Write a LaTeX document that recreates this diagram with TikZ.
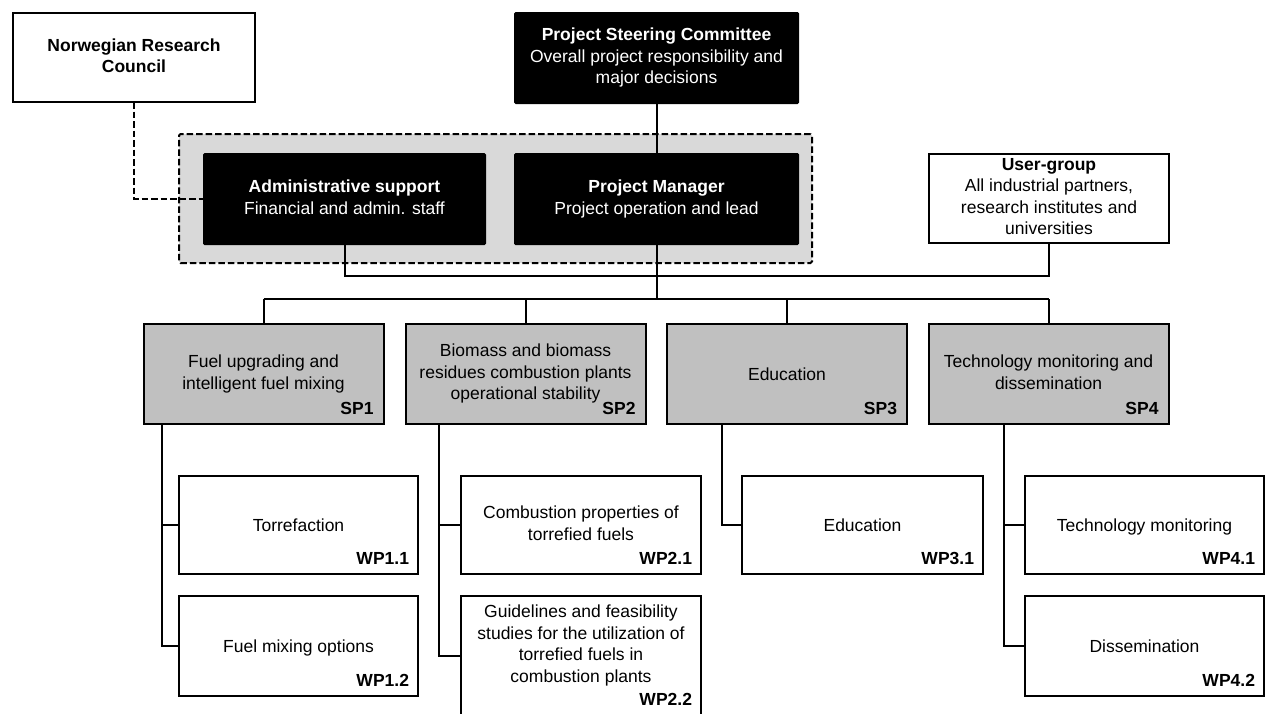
\documentclass[tikz,border=0pt]{standalone}
\usepackage{fontspec}
\setmainfont{Liberation Sans}
\newcommand{\diagfs}{\fontsize{17.5}{21.5}\selectfont}
\newcommand{\tstrut}{\rule[-4pt]{0pt}{21.5pt}}
\definecolor{spgray}{HTML}{C0C0C0}
\definecolor{grpgray}{HTML}{D9D9D9}
\tikzset{
  base/.style={inner sep=0pt, outer sep=0pt, align=center, font=\diagfs,
    execute at begin node=\tstrut, execute at end node=\tstrut},
  wbox/.style={base, draw, line width=2pt, fill=white},
  gbox/.style={base, draw, line width=2pt, fill=spgray},
  kbox/.style={base, fill=black, text=white, rounded corners=1.5pt},
  tag/.style={inner sep=0pt, outer sep=0pt, font=\diagfs\bfseries, anchor=base east},
  conn/.style={line width=2pt},
  dconn/.style={line width=2pt, dash pattern=on 6.5pt off 3pt},
}
\begin{document}
\begin{tikzpicture}[x=1pt,y=-1pt]
\useasboundingbox (0,0) rectangle (1272,713);
\clip (0,0) rectangle (1272,713);
\fill[white] (0,0) rectangle (1272,713);

% dashed group
\node[dconn, draw, fill=grpgray, rounded corners=1.5pt, minimum width=633pt, minimum height=129pt, inner sep=0pt] (grp) at (495.5,198.5) {};

% top boxes
\node[wbox, font=\diagfs\bfseries, minimum width=242pt, minimum height=89pt] (nrc) at (134,57.5) {Norwegian Research\\Council};
\node[kbox, minimum width=285pt, minimum height=92pt] (psc) at (656.5,58) {\textbf{Project Steering Committee}\\Overall project responsibility and\\major decisions};
\node[kbox, minimum width=283pt, minimum height=92pt] (adm) at (344.5,199) {\textbf{Administrative support}\\Financial and admin. staff};
\node[kbox, minimum width=285pt, minimum height=92pt] (pm) at (656.5,199) {\textbf{Project Manager}\\Project operation and lead};
\node[wbox, minimum width=240pt, minimum height=89pt] (ug) at (1049,198.5) {\textbf{User-group}\\All industrial partners,\\research institutes and\\universities};

% sub-projects
\node[gbox, minimum width=240pt, minimum height=100pt] (sp1) at (263.5,374) {Fuel upgrading and\\intelligent fuel mixing};
\node[gbox, minimum width=240pt, minimum height=100pt] (sp2) at (525.5,374) {Biomass and biomass\\residues combustion plants\\operational stability};
\node[gbox, minimum width=240pt, minimum height=100pt] (sp3) at (787,374) {Education};
\node[gbox, minimum width=240pt, minimum height=100pt] (sp4) at (1048.5,374) {Technology monitoring and\\dissemination};
\node[tag] (sp1t) at ([shift={(-10,-10)}]sp1.south east) {SP1};
\node[tag] (sp2t) at ([shift={(-10,-10)}]sp2.south east) {SP2};
\node[tag] (sp3t) at ([shift={(-10,-10)}]sp3.south east) {SP3};
\node[tag] (sp4t) at ([shift={(-10,-10)}]sp4.south east) {SP4};

% work packages
\node[wbox, minimum width=239pt, minimum height=98pt] (wp11) at (298.5,525) {Torrefaction};
\node[wbox, minimum width=239pt, minimum height=100pt] (wp12) at (298.5,646) {Fuel mixing options};
\node[wbox, minimum width=240pt, minimum height=98pt] (wp21) at (581,525) {Combustion properties of\\torrefied fuels};
\node[wbox, minimum width=240pt, minimum height=119pt] (wp22) at (581,655.5) {};
\node[base] (wp22txt) at ([shift={(0,-10)}]wp22.center) {Guidelines and feasibility\\studies for the utilization of\\torrefied fuels in\\combustion plants};
\node[wbox, minimum width=241pt, minimum height=98pt] (wp31) at (862.5,525) {Education};
\node[wbox, minimum width=239pt, minimum height=98pt] (wp41) at (1144.5,525) {Technology monitoring};
\node[wbox, minimum width=239pt, minimum height=100pt] (wp42) at (1144.5,646) {Dissemination};
\node[tag] (wp11t) at ([shift={(-9,-10)}]wp11.south east) {WP1.1};
\node[tag] (wp12t) at ([shift={(-9,-10)}]wp12.south east) {WP1.2};
\node[tag] (wp21t) at ([shift={(-9,-10)}]wp21.south east) {WP2.1};
\node[tag] (wp22t) at ([shift={(-9,-10)}]wp22.south east) {WP2.2};
\node[tag] (wp31t) at ([shift={(-9,-10)}]wp31.south east) {WP3.1};
\node[tag] (wp41t) at ([shift={(-9,-10)}]wp41.south east) {WP4.1};
\node[tag] (wp42t) at ([shift={(-9,-10)}]wp42.south east) {WP4.2};

% connectors
\coordinate (ulev) at (0,276);
\coordinate (bus) at (0,299);
\coordinate (v1) at (162,0);
\coordinate (v2) at (439,0);
\coordinate (v3) at (722,0);
\coordinate (v4) at (1004,0);

\draw[dconn] (nrc.south) |- (adm.west);
\draw[conn] (psc.south) -- (pm.north);
\draw[conn] (adm.south) -- (adm.south |- ulev) -- (ug.south |- ulev) -- (ug.south);
\draw[conn] (pm.south) -- (pm.south |- bus);
\draw[conn] (sp1.north |- bus) -- (sp4.north |- bus);
\foreach \s in {sp1,sp2,sp3,sp4} {\draw[conn] (\s.north |- bus) -- (\s.north);}

\draw[conn] (v1 |- sp1.south) |- (wp12.west);
\draw[conn] (v1 |- wp11.west) -- (wp11.west);
\draw[conn] (v2 |- sp2.south) |- (wp22.west);
\draw[conn] (v2 |- wp21.west) -- (wp21.west);
\draw[conn] (v3 |- sp3.south) |- (wp31.west);
\draw[conn] (v4 |- sp4.south) |- (wp42.west);
\draw[conn] (v4 |- wp41.west) -- (wp41.west);
\end{tikzpicture}
\end{document}
